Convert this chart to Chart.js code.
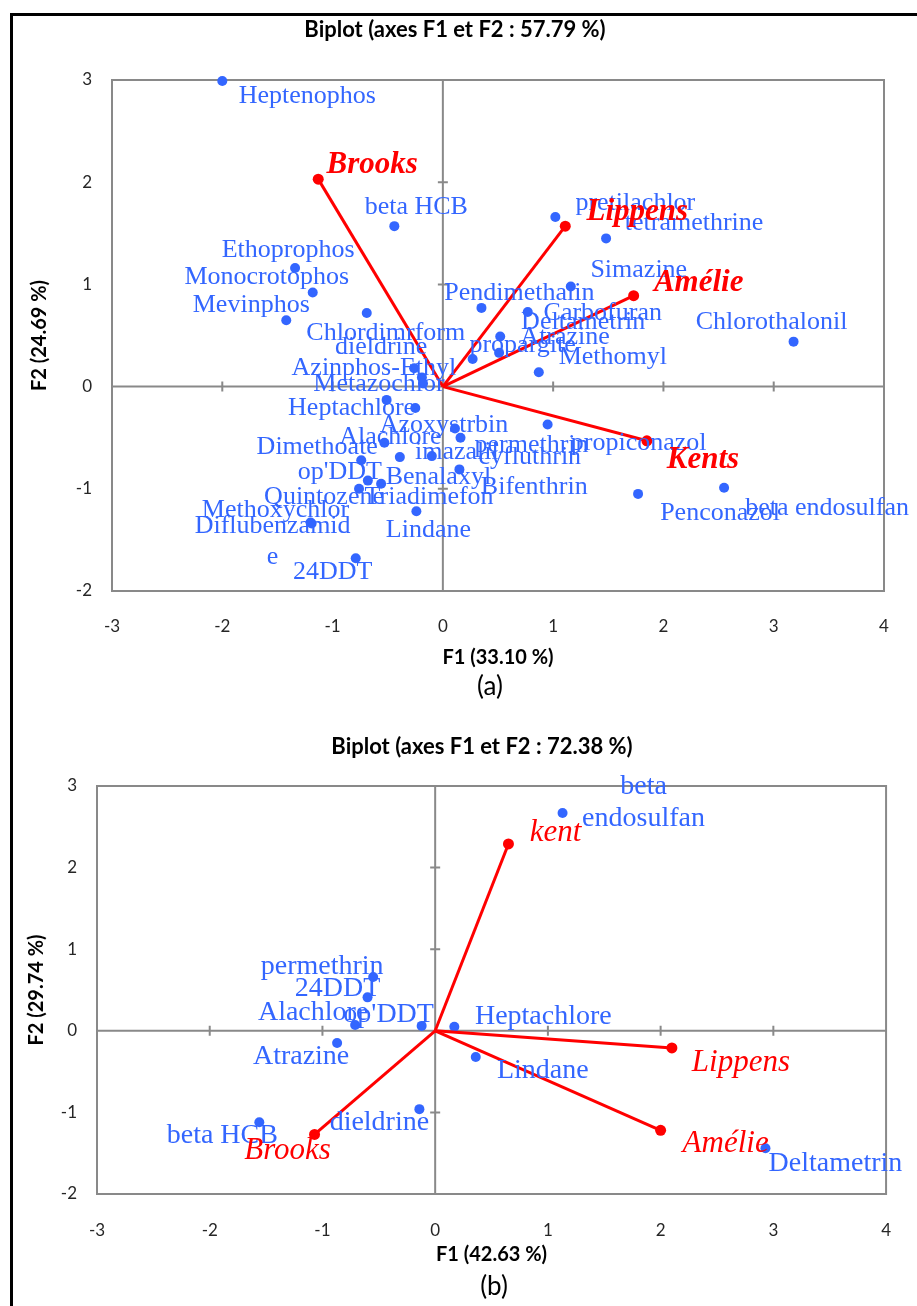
<!DOCTYPE html>
<html>
<head>
<meta charset="utf-8">
<script src="https://cdn.jsdelivr.net/npm/chart.js@4.4.0/dist/chart.umd.min.js"></script>
<style>
  body { margin: 0; background: #fff; }
  #page { position: relative; width: 917px; height: 1306px; overflow: hidden; }
  #frame { position: absolute; left: 10px; top: 13px; width: 920px; height: 1310px;
           border-left: 3px solid #000; border-top: 3px solid #000; }
  canvas { position: absolute; left: 0; }
</style>
</head>
<body>
<div id="page">
  <div id="frame"></div>
  <canvas id="chartA" width="917" height="710" style="top:0"></canvas>
  <canvas id="chartB" width="917" height="596" style="top:710px"></canvas>
</div>
<script>
// Axis ticks shared by both biplots
const xTicks = [-3, -2, -1, 0, 1, 2, 3, 4];
const yTicks = [-2, -1, 0, 1, 2, 3];

// (a) pesticide scores
const namesA = ['Heptenophos', 'beta HCB', 'Ethoprophos', 'Monocrotophos', 'Mevinphos', 'Chlordimrform',
  'dieldrine', 'Azinphos-Ethyl', 'Metazochlor', 'Heptachlore', 'Azoxystrbin', 'Alachlore', 'Dimethoate',
  'imazalil', 'permethrin', 'cyfluthrin', 'propiconazol', "op'DDT", 'Benalaxyl', 'Bifenthrin', 'Quintozene',
  'Triadimefon', 'Methoxychlor', 'Diflubenzamid\ne', 'Lindane', '24DDT', 'Penconazol', 'beta endosulfan',
  'Chlorothalonil', 'Simazine', 'Pendimethalin', 'Carbofuran', 'Deltametrin', 'Atrazine', 'propargite',
  'Methomyl', 'pretilachlor', 'tetramethrine'];
const f1A = [-2.00, -0.44, -1.34, -1.18, -1.42, -0.69, -0.26, -0.19, -0.18, -0.51, 0.11, -0.53, -0.74,
  -0.10, 0.16, -0.39, 0.95, -0.68, 0.15, -0.25, -0.76, -0.56, -1.20, -1.19, -0.24, -0.79, 1.77, 2.55,
  3.18, 1.16, 0.35, 0.77, 0.52, 0.51, 0.27, 0.87, 1.02, 1.48];
const f2A = [2.99, 1.57, 1.16, 0.92, 0.65, 0.72, 0.18, 0.09, 0.03, -0.13, -0.41, -0.55, -0.72,
  -0.68, -0.50, -0.69, -0.37, -0.92, -0.81, -0.21, -1.00, -0.95, -1.33, -1.34, -1.22, -1.68, -1.05, -0.99,
  0.44, 0.98, 0.77, 0.73, 0.49, 0.33, 0.27, 0.14, 1.66, 1.45];

// (a) site vectors
const sitesA = ['Brooks', 'Lippens', 'Amélie', 'Kents'];
const siteF1A = [-1.13, 1.11, 1.73, 1.85];
const siteF2A = [2.03, 1.57, 0.89, -0.53];

// (b) pesticide scores
const namesB = ['beta\nendosulfan', 'permethrin', '24DDT', 'Alachlore', "op'DDT", 'Heptachlore', 'Atrazine',
  'Lindane', 'dieldrine', 'beta HCB', 'Deltametrin'];
const f1B = [1.13, -0.55, -0.60, -0.71, -0.12, 0.17, -0.87, 0.36, -0.14, -1.56, 2.93];
const f2B = [2.67, 0.66, 0.41, 0.07, 0.06, 0.05, -0.15, -0.32, -0.96, -1.12, -1.44];

// (b) site vectors
const sitesB = ['Brooks', 'kent', 'Lippens', 'Amélie'];
const siteF1B = [-1.07, 0.65, 2.10, 2.00];
const siteF2B = [-1.27, 2.29, -0.21, -1.22];

// label placement (pixel offsets of label centre from its point)
const labelOffA = [[85, 15], [22, -19], [-7, -18], [-46, -15], [-35, -15], [19, 20], [-33, -21], [-48, -9],
  [-44, 1], [-35, 8], [-11, -3], [6, -6], [-44, -13], [25, -4], [71, 7], [130, 0], [91, 19], [-28, -8],
  [-21, 8], [119, 79], [-35, 8], [48, 13], [-35, -12], [-39, 18], [12, 19], [-23, 14], [82, 19], [103, 20],
  [-22, -19], [68, -16], [38, -15], [75, 1], [83, -14], [66, -16], [50, -14], [74, -15], [80, -14], [88, -15]];
const siteOffA = [[54, -14], [72, -14], [65, -13], [56, 19]];
const labelOffB = [[81, -10], [-51, -10], [-30, -9], [-42, -12], [-33, -11], [89, -10], [-36, 14], [67, 14],
  [-40, 14], [-37, 13], [70, 15]];
const siteOffB = [[-27, 16], [47, -11], [69, 15], [65, 13]];

const BLUE = '#3366ff';
const RED = '#ff0000';
const AXIS_GREY = '#898989';

const biplotDecor = {
  id: 'biplotDecor',
  beforeDatasetsDraw(chart) {
    const { ctx, chartArea: a, scales: { x, y } } = chart;
    const x0 = x.getPixelForValue(0);
    const y0 = y.getPixelForValue(0);
    ctx.save();
    ctx.strokeStyle = AXIS_GREY;
    ctx.lineWidth = 2;
    ctx.strokeRect(a.left, a.top, a.right - a.left, a.bottom - a.top);
    ctx.beginPath();
    ctx.moveTo(x0, a.top); ctx.lineTo(x0, a.bottom);
    ctx.moveTo(a.left, y0); ctx.lineTo(a.right, y0);
    // cross tick marks on the zero axes
    x.ticks.forEach(t => {
      if (t.value === x.min || t.value === x.max || t.value === 0) return;
      const px = x.getPixelForValue(t.value);
      ctx.moveTo(px, y0 - 5); ctx.lineTo(px, y0 + 5);
    });
    y.ticks.forEach(t => {
      if (t.value === y.min || t.value === y.max || t.value === 0) return;
      const py = y.getPixelForValue(t.value);
      ctx.moveTo(x0 - 5, py); ctx.lineTo(x0 + 5, py);
    });
    ctx.stroke();
    ctx.restore();
  },
  afterDatasetsDraw(chart) {
    const ctx = chart.ctx;
    ctx.save();
    ctx.textAlign = 'center';
    ctx.textBaseline = 'middle';
    chart.data.datasets.forEach((ds, di) => {
      if (!ds.pointLabels) return;
      const meta = chart.getDatasetMeta(di);
      ctx.font = ds.labelFont;
      ctx.fillStyle = ds.labelColor;
      ds.pointLabels.forEach((txt, i) => {
        if (txt === null) return;
        const el = meta.data[i];
        const [dx, dy] = ds.labelOffsets[i];
        const lines = txt.split('\n');
        const lh = ds.labelLineHeight;
        const top = el.y + dy - (lines.length - 1) * lh / 2;
        lines.forEach((line, li) => ctx.fillText(line, el.x + dx, top + li * lh));
      });
    });
    ctx.restore();
  },
  afterDraw(chart, args, opts) {
    const ctx = chart.ctx;
    ctx.save();
    ctx.textAlign = 'center';
    ctx.textBaseline = 'middle';
    ctx.fillStyle = '#000';
    ctx.font = 'bold 22px Lato';
    ctx.fillText(opts.heading.text, opts.heading.x, opts.heading.y);
    ctx.font = '26px Lato';
    ctx.fillText(opts.caption.text, opts.caption.x, opts.caption.y);
    ctx.restore();
  }
};

function buildBiplot(canvasId, p) {
  const scores = p.names.map((n, i) => ({ x: p.f1[i], y: p.f2[i] }));
  const datasets = [{
    data: scores,
    order: 2,
    clip: false,
    pointRadius: 5,
    pointHoverRadius: 5,
    pointBackgroundColor: BLUE,
    pointBorderWidth: 0,
    showLine: false,
    pointLabels: p.names,
    labelOffsets: p.labelOff,
    labelFont: p.blueFont,
    labelColor: BLUE,
    labelLineHeight: p.lineHeight
  }];
  p.sites.forEach((s, i) => {
    datasets.push({
      data: [{ x: 0, y: 0 }, { x: p.siteF1[i], y: p.siteF2[i] }],
      order: 1,
      clip: false,
      showLine: true,
      borderColor: RED,
      borderWidth: 3,
      pointRadius: [0, 5.5],
      pointHoverRadius: [0, 5.5],
      pointBackgroundColor: RED,
      pointBorderWidth: 0,
      pointLabels: [null, s],
      labelOffsets: [[0, 0], p.siteOff[i]],
      labelFont: p.redFont,
      labelColor: RED,
      labelLineHeight: 30
    });
  });

  return new Chart(document.getElementById(canvasId), {
    type: 'scatter',
    data: { datasets },
    options: {
      responsive: false,
      animation: false,
      events: [],
      layout: { padding: p.padding },
      plugins: {
        legend: { display: false },
        tooltip: { enabled: false },
        biplotDecor: { heading: p.heading, caption: p.caption }
      },
      scales: {
        x: {
          type: 'linear',
          min: xTicks[0],
          max: xTicks[xTicks.length - 1],
          afterBuildTicks: s => { s.ticks = xTicks.map(v => ({ value: v })); },
          ticks: { padding: p.xTickPad, color: '#262626', font: { family: 'Lato', size: 17 } },
          grid: { display: false, drawTicks: false },
          border: { display: false },
          title: {
            display: true, text: p.xTitle, color: '#000',
            font: { family: 'Lato', size: 20, weight: 'bold' },
            padding: { top: 0, bottom: p.xTitlePad }
          },
          afterFit: s => { s.height = p.xHeight; }
        },
        y: {
          type: 'linear',
          min: yTicks[0],
          max: yTicks[yTicks.length - 1],
          afterBuildTicks: s => { s.ticks = yTicks.map(v => ({ value: v })); },
          ticks: { padding: p.yTickPad, color: '#262626', font: { family: 'Lato', size: 17 } },
          grid: { display: false, drawTicks: false },
          border: { display: false },
          title: {
            display: true, text: p.yTitle, color: '#000',
            font: { family: 'Lato', size: 20, weight: 'bold' },
            padding: { top: p.yTitlePad, bottom: 0 }
          },
          afterFit: s => { s.width = p.yWidth; }
        }
      }
    },
    plugins: [biplotDecor]
  });
}

buildBiplot('chartA', {
  names: namesA, f1: f1A, f2: f2A, labelOff: labelOffA,
  sites: sitesA, siteF1: siteF1A, siteF2: siteF2A, siteOff: siteOffA,
  blueFont: '26px "Liberation Serif"', redFont: 'italic bold 31px "Liberation Serif"', lineHeight: 31,
  padding: { left: 0, right: 33, top: 80, bottom: 40 },
  yWidth: 112, xHeight: 79, xTickPad: 25, yTickPad: 20, xTitlePad: 0, yTitlePad: 28,
  xTitle: 'F1 (33.10 %)', yTitle: 'F2 (24.69 %)',
  heading: { text: 'Biplot (axes F1 et F2 : 57.79 %)', x: 455, y: 30 },
  caption: { text: '(a)', x: 490, y: 687 }
});

buildBiplot('chartB', {
  names: namesB, f1: f1B, f2: f2B, labelOff: labelOffB,
  sites: sitesB, siteF1: siteF1B, siteF2: siteF2B, siteOff: siteOffB,
  blueFont: '28px "Liberation Serif"', redFont: 'italic 31px "Liberation Serif"', lineHeight: 32,
  padding: { left: 0, right: 12, top: 76, bottom: 39 },
  yWidth: 97, xHeight: 73, xTickPad: 26, yTickPad: 20, xTitlePad: 0, yTitlePad: 25,
  xTitle: 'F1 (42.63 %)', yTitle: 'F2 (29.74 %)',
  heading: { text: 'Biplot (axes F1 et F2 : 72.38 %)', x: 482, y: 37 },
  caption: { text: '(b)', x: 494, y: 577 }
});
</script>
</body>
</html>
